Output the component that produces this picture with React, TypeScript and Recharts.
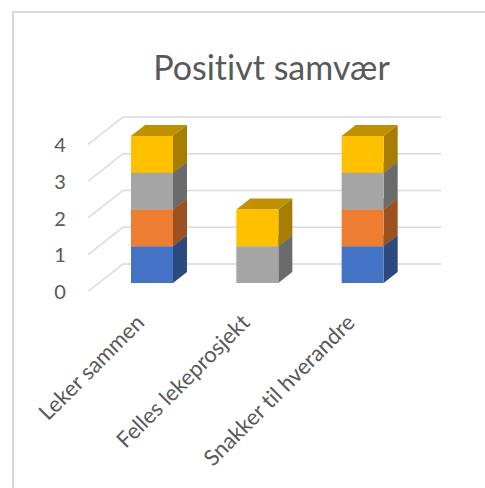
import { BarChart, Bar, XAxis, YAxis, CartesianGrid } from 'recharts';

const categories = ['Leker sammen', 'Felles lekeprosjekt', 'Snakker til hverandre'];
const serie1 = [1, 0, 1];
const serie2 = [1, 0, 1];
const serie3 = [1, 1, 1];
const serie4 = [1, 1, 1];
const yTicks = [0, 1, 2, 3, 4];

const tableData = categories.map((name, i) => ({
  name,
  serie1: serie1[i],
  serie2: serie2[i],
  serie3: serie3[i],
  serie4: serie4[i],
}));

const textColor = '#595959';
const font = 'Lato, sans-serif';
const DEPTH_X = 14;
const DEPTH_Y = 11;

function box3d(front: string, side: string, top: string) {
  return (props: any) => {
    const { x, y, width, height } = props;
    if (!height || height <= 0) return <g />;
    const r = x + width;
    const b = y + height;
    return (
      <g>
        <polygon
          points={`${x},${y} ${r},${y} ${r + DEPTH_X},${y - DEPTH_Y} ${x + DEPTH_X},${y - DEPTH_Y}`}
          fill={top}
        />
        <polygon
          points={`${r},${y} ${r + DEPTH_X},${y - DEPTH_Y} ${r + DEPTH_X},${b - DEPTH_Y} ${r},${b}`}
          fill={side}
        />
        <rect x={x} y={y} width={width} height={height} fill={front} />
      </g>
    );
  };
}

// gridline = diagonal on the floor side, then along the back wall
function gridLine(props: any) {
  const y = props.y1;
  return (
    <polyline
      key={props.key ?? y}
      points={`88,${y + 8.5} 123,${y - 19} 441,${y - 19}`}
      fill="none"
      stroke="#d9d9d9"
      strokeWidth={1.5}
    />
  );
}

function YTick({ y, payload }: any) {
  return (
    <text x={60} y={y + 16} textAnchor="middle" fontSize={20} fontFamily={font} fill={textColor}>
      {payload.value}
    </text>
  );
}

function XTick({ x, y, payload }: any) {
  return (
    <text
      x={x - 6}
      y={y + 33}
      textAnchor="end"
      fontSize={22}
      fontFamily={font}
      fill={textColor}
      style={{ fontVariantLigatures: 'none' }}
      transform={`rotate(-45 ${x - 6} ${y + 33})`}
    >
      {payload.value}
    </text>
  );
}

export default function App() {
  return (
    <div style={{ position: 'absolute', left: 0, top: 0, width: 485, height: 488, background: '#fff', overflow: 'hidden' }}>
      <div
        style={{
          position: 'absolute',
          left: 12,
          top: 11,
          width: 480,
          height: 490,
          borderLeft: '2px solid #d9d9d9',
          borderTop: '2px solid #d9d9d9',
        }}
      />
      <div
        style={{
          position: 'absolute',
          left: 0,
          width: 543,
          top: 46,
          textAlign: 'center',
          fontFamily: font,
          fontSize: 34,
          fontVariantLigatures: 'none',
          color: textColor,
        }}
      >
        Positivt samvær
      </div>
      <div style={{ position: 'absolute', left: 0, top: 0 }}>
        <BarChart
          width={485}
          height={488}
          data={tableData}
          barSize={42}
          margin={{ top: 136, right: 70, bottom: 0, left: 39 }}
        >
          <CartesianGrid vertical={false} horizontal={gridLine} />
          <XAxis dataKey="name" height={205} axisLine={false} tickLine={false} interval={0} tick={<XTick />} />
          <YAxis width={60} domain={[0, 4]} ticks={yTicks} axisLine={false} tickLine={false} tick={<YTick />} />
          <Bar dataKey="serie1" stackId="a" isAnimationActive={false} shape={box3d('#4472c4', '#2a4a80', '#325a9e')} />
          <Bar dataKey="serie2" stackId="a" isAnimationActive={false} shape={box3d('#ed7d31', '#9c5220', '#b9612a')} />
          <Bar dataKey="serie3" stackId="a" isAnimationActive={false} shape={box3d('#a5a5a5', '#6b6b6b', '#7f7f7f')} />
          <Bar dataKey="serie4" stackId="a" isAnimationActive={false} shape={box3d('#ffc000', '#a67d00', '#bf9000')} />
        </BarChart>
      </div>
    </div>
  );
}
